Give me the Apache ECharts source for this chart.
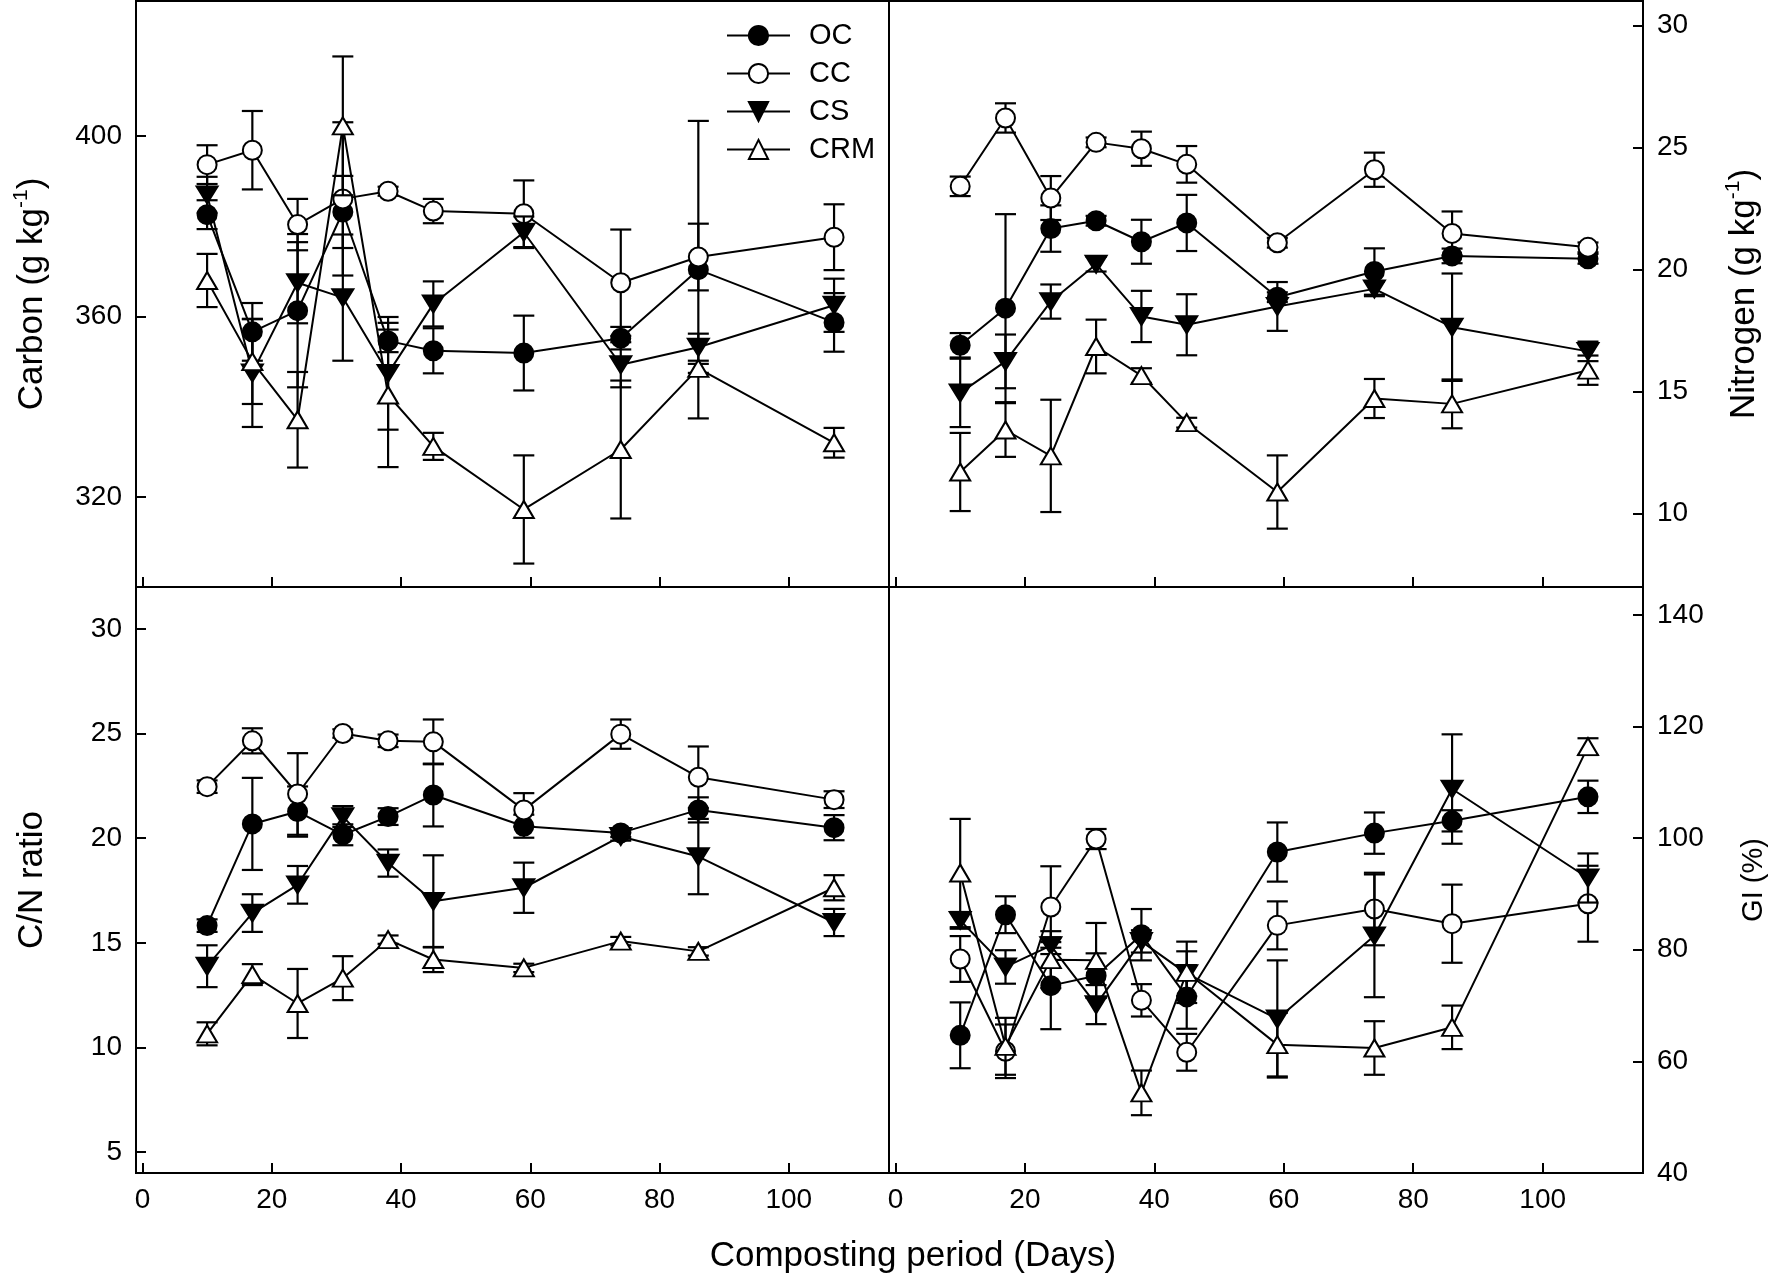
<!DOCTYPE html>
<html><head><meta charset="utf-8">
<script src="https://cdn.jsdelivr.net/npm/echarts@6/dist/echarts.min.js"></script>
<style>html,body{margin:0;padding:0;background:#fff}#c{width:1773px;height:1282px}</style>
</head><body><div id="c"></div>
<script>
// ---------- data ----------
const days = [10, 17, 24, 31, 38, 45, 59, 74, 86, 107];
const groupNames = ['OC', 'CC', 'CS', 'CRM'];

const carbonOC = [382.6, 356.6, 361.3, 383.2, 354.6, 352.4, 351.9, 355.2, 370.4, 358.7];
const carbonOCErr = [3.2, 6.4, 17, 8, 2.5, 5, 8.3, 2.5, 33, 6.5];
const carbonCC = [393.7, 396.9, 380.4, 386.1, 387.8, 383.4, 382.8, 367.5, 373.2, 377.6];
const carbonCCErr = [4.3, 8.7, 5.7, 17, 1, 2.7, 7.4, 11.8, 7.4, 7.3];
const carbonCS = [387, 347.5, 367.5, 364.2, 347.4, 362.8, 378.7, 349.3, 353.2, 362.5];
const carbonCSErr = [4, 12, 9, 14, 12.5, 5, 3.5, 5, 3, 5.9];
const carbonCRM = [368, 350, 337.1, 402.3, 342.6, 331.2, 317.2, 330.5, 348.5, 332];
const carbonCRMErr = [5.9, 9.4, 10.6, 15.4, 16, 3, 12, 15.3, 1, 3.3];

const nitrogenOC = [16.9, 18.42, 21.68, 22.0, 21.14, 21.91, 18.87, 19.92, 20.56, 20.44];
const nitrogenOCErr = [0.5, 3.85, 0.95, 0.2, 0.9, 1.15, 0.2, 0.95, 0.3, 0.2];
const nitrogenCC = [23.41, 26.21, 22.93, 25.21, 24.95, 24.31, 21.1, 24.09, 21.48, 20.91];
const nitrogenCCErr = [0.4, 0.6, 0.9, 0.2, 0.7, 0.75, 0.2, 0.7, 0.9, 0.2];
const nitrogenCS = [14.95, 16.24, 18.69, 20.22, 18.08, 17.74, 18.49, 19.21, 17.64, 16.65];
const nitrogenCSErr = [1.4, 1.1, 0.7, 0.3, 1.05, 1.25, 1.0, 0.3, 2.2, 0.4];
const nitrogenCRM = [11.71, 13.43, 12.37, 16.85, 15.66, 13.73, 10.89, 14.72, 14.5, 15.88];
const nitrogenCRMErr = [1.6, 1.1, 2.3, 1.1, 0.3, 0.2, 1.5, 0.8, 1.0, 0.6];

const cnOC = [15.82, 20.68, 21.27, 20.16, 21.03, 22.06, 20.57, 20.25, 21.35, 20.5];
const cnOCErr = [0.3, 2.2, 1.2, 0.5, 0.4, 1.5, 0.55, 0.2, 0.6, 0.6];
const cnCC = [22.46, 24.65, 22.11, 25.0, 24.65, 24.6, 21.35, 24.97, 22.91, 21.84];
const cnCCErr = [0.3, 0.6, 1.95, 0.2, 0.3, 1.07, 0.8, 0.7, 1.47, 0.4];
const cnCS = [13.88, 16.42, 17.77, 21.03, 18.81, 16.98, 17.63, 20.08, 19.12, 15.97];
const cnCSErr = [1.0, 0.9, 0.9, 0.5, 0.65, 2.2, 1.2, 0.2, 1.8, 0.65];
const cnCRM = [10.65, 13.48, 12.1, 13.31, 15.15, 14.2, 13.8, 15.08, 14.59, 17.63];
const cnCRMErr = [0.55, 0.5, 1.65, 1.05, 0.2, 0.6, 0.2, 0.2, 0.2, 0.6];

const giOC = [64.67, 86.28, 73.57, 75.36, 82.7, 71.55, 97.51, 100.9, 103.1, 107.4];
const giOCErr = [5.9, 3.3, 7.8, 4, 4.6, 5.7, 5.3, 3.7, 1.9, 2.9];
const giCC = [78.35, 61.81, 87.66, 99.84, 70.94, 61.63, 84.37, 87.3, 84.67, 88.25];
const giCCErr = [4.1, 4.8, 7.3, 1.8, 2.9, 3.3, 4.3, 6.5, 7, 6.8];
const giCS = [85.27, 76.92, 80.73, 70.17, 81.5, 75.72, 67.6, 82.5, 108.8, 92.86];
const giCSErr = [1.5, 3, 1.5, 3.5, 2, 4, 10.5, 11, 9.8, 4.4];
const giCRM = [93.75, 62.7, 78.23, 78.1, 54.36, 75.96, 63.0, 62.4, 66.1, 116.4];
const giCRMErr = [9.7, 5.1, 5.1, 6.7, 4, 5.5, 5.7, 4.8, 3.9, 1.5];

const xTicks = [0, 20, 40, 60, 80, 100];
const carbonTicks = [320, 360, 400];
const nitrogenTicks = [10, 15, 20, 25, 30];
const cnTicks = [5, 10, 15, 20, 25, 30];
const giTicks = [40, 60, 80, 100, 120, 140];

// ---------- styling ----------
const FONT = '"Liberation Sans", Arial, Helvetica, sans-serif';
const DOWN_TRI = 'path://M0,0L20,0L10,17Z';
const groupStyle = [
  { symbol: 'circle', size: 19, fill: '#000' },
  { symbol: 'circle', size: 19, fill: '#fff' },
  { symbol: DOWN_TRI, size: [21, 17], fill: '#000' },
  { symbol: 'triangle', size: [20, 17], fill: '#fff' }
];

function errRender(params, api) {
  const x = api.value(0), lo = api.value(1), hi = api.value(2);
  const a = api.coord([x, hi]), b = api.coord([x, lo]);
  const hw = 10.5;
  const st = { stroke: '#000', lineWidth: 2.2 };
  return {
    type: 'group', children: [
      { type: 'line', shape: { x1: a[0], y1: a[1], x2: b[0], y2: b[1] }, style: st },
      { type: 'line', shape: { x1: a[0] - hw, y1: a[1], x2: a[0] + hw, y2: a[1] }, style: st },
      { type: 'line', shape: { x1: b[0] - hw, y1: b[1], x2: b[0] + hw, y2: b[1] }, style: st }
    ]
  };
}

const panels = [
  { vals: [carbonOC, carbonCC, carbonCS, carbonCRM], errs: [carbonOCErr, carbonCCErr, carbonCSErr, carbonCRMErr] },
  { vals: [nitrogenOC, nitrogenCC, nitrogenCS, nitrogenCRM], errs: [nitrogenOCErr, nitrogenCCErr, nitrogenCSErr, nitrogenCRMErr] },
  { vals: [cnOC, cnCC, cnCS, cnCRM], errs: [cnOCErr, cnCCErr, cnCSErr, cnCRMErr] },
  { vals: [giOC, giCC, giCS, giCRM], errs: [giOCErr, giCCErr, giCSErr, giCRMErr] }
];

const series = [];
panels.forEach((p, pi) => {
  for (let k = 0; k < 4; k++) {
    const v = p.vals[k], e = p.errs[k];
    series.push({
      type: 'custom', xAxisIndex: pi, yAxisIndex: pi, silent: true,
      renderItem: errRender, z: 2 + 2 * k,
      encode: { x: 0, y: [1, 2] },
      data: days.map((d, j) => [d, v[j] - e[j], v[j] + e[j]])
    });
    const gs = groupStyle[k];
    series.push({
      type: 'line', name: groupNames[k], xAxisIndex: pi, yAxisIndex: pi,
      z: 3 + 2 * k, symbol: gs.symbol, symbolSize: gs.size, showAllSymbol: true,
      lineStyle: { color: '#000', width: 2 },
      itemStyle: { color: gs.fill, borderColor: '#000', borderWidth: 2 },
      emphasis: { disabled: true },
      data: days.map((d, j) => [d, v[j]])
    });
  }
});

function xAx(grid, showLabels) {
  return {
    type: 'value', gridIndex: grid, min: -1, max: 115.5,
    axisLine: { show: true, onZero: false, lineStyle: { color: '#000', width: 2 } },
    axisTick: { show: true, inside: true, length: 10, customValues: xTicks, lineStyle: { color: '#000', width: 2 } },
    axisLabel: { show: showLabels, customValues: xTicks, margin: 13, fontSize: 28, color: '#000', fontFamily: FONT },
    splitLine: { show: false }
  };
}
function yAx(grid, pos, min, max, ticks, name, gap, nameSize) {
  return {
    type: 'value', gridIndex: grid, position: pos, min: min, max: max,
    axisLine: { show: true, onZero: false, lineStyle: { color: '#000', width: 2 } },
    axisTick: { show: true, inside: true, length: 10, customValues: ticks, lineStyle: { color: '#000', width: 2 } },
    axisLabel: { customValues: ticks, margin: 14, fontSize: 28, color: '#000', fontFamily: FONT },
    splitLine: { show: false },
    name: name, nameLocation: 'middle', nameRotate: 90, nameGap: gap,
    nameTextStyle: {
      fontFamily: FONT, fontSize: nameSize, color: '#000',
      rich: {
        a: { fontFamily: FONT, fontSize: nameSize, color: '#000', lineHeight: 42 },
        s: { fontFamily: FONT, fontSize: 21, color: '#000', lineHeight: 20, verticalAlign: 'top' }
      }
    }
  };
}

const gridBase = { show: true, borderColor: '#000', borderWidth: 2, backgroundColor: 'transparent' };
const option = {
  animation: false,
  backgroundColor: '#fff',
  grid: [
    Object.assign({ left: 136, top: 1, width: 753, height: 586 }, gridBase),
    Object.assign({ left: 889, top: 1, width: 754, height: 586 }, gridBase),
    Object.assign({ left: 136, top: 587, width: 753, height: 586 }, gridBase),
    Object.assign({ left: 889, top: 587, width: 754, height: 586 }, gridBase)
  ],
  xAxis: [xAx(0, false), xAx(1, false), xAx(2, true), xAx(3, true)],
  yAxis: [
    yAx(0, 'left', 300, 430, carbonTicks, '{a|Carbon (g kg}{s|-1}{a|)}', 83, 35),
    yAx(1, 'right', 7, 31, nitrogenTicks, '{a|Nitrogen (g kg}{s|-1}{a|)}', 80, 35),
    yAx(2, 'left', 4, 32, cnTicks, '{a|C/N ratio}', 83, 35),
    yAx(3, 'right', 40, 145, giTicks, '{a|GI (%)}', 90, 29)
  ],
  legend: {
    data: groupNames, orient: 'vertical', left: 726, top: 21, padding: 0,
    itemWidth: 63, itemHeight: 24, itemGap: 9,
    selectedMode: false,
    textStyle: { fontFamily: FONT, fontSize: 29, color: '#000', padding: [0, 0, 0, 14] }
  },
  graphic: [{
    type: 'text', x: 913, y: 1256,
    style: { text: 'Composting period (Days)', font: '35px "Liberation Sans", Arial, sans-serif', fill: '#000',
      align: 'center', verticalAlign: 'middle', textAlign: 'center', textVerticalAlign: 'middle' }
  }],
  series: series
};

const chart = echarts.init(document.getElementById('c'), null, { renderer: 'canvas' });
chart.setOption(option);
</script>
</body></html>
